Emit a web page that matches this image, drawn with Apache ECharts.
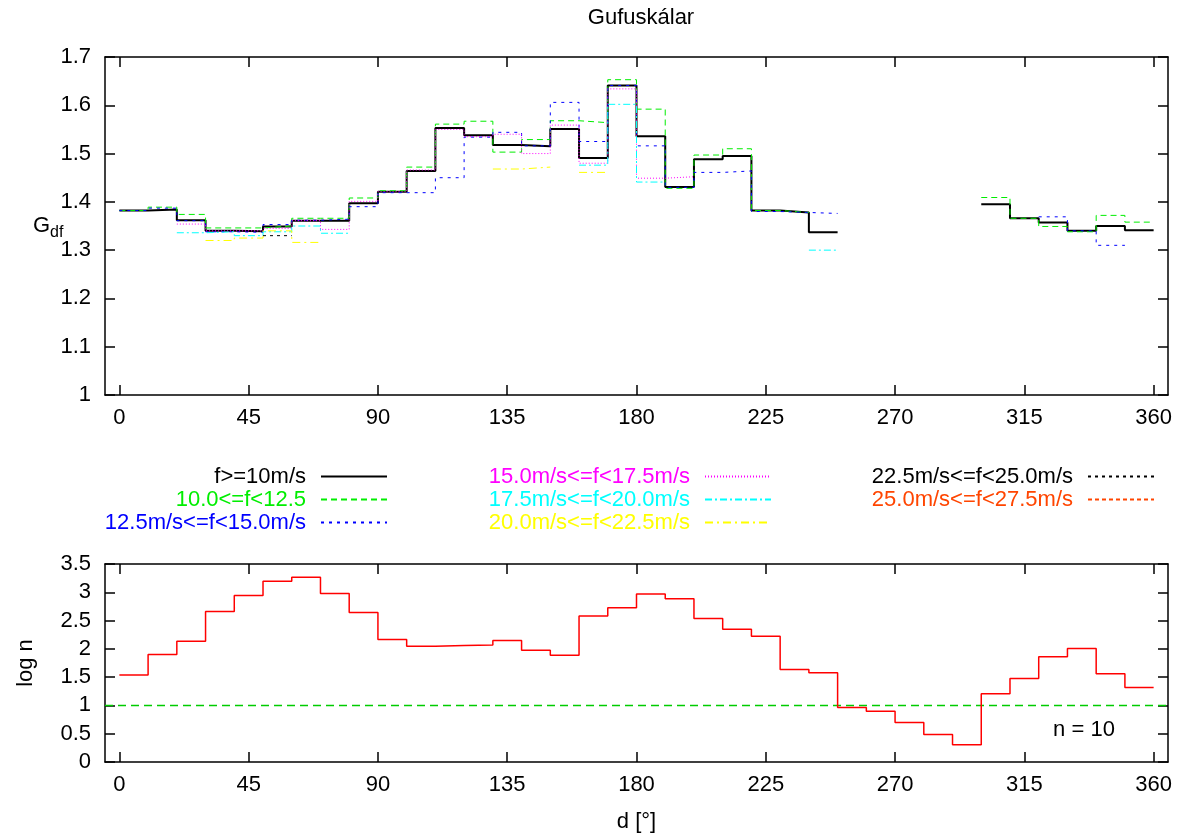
<!DOCTYPE html>
<html>
<head>
<meta charset="utf-8">
<title>Gufuskálar</title>
<script src="https://cdn.jsdelivr.net/npm/echarts@6/dist/echarts.min.js"></script>
<style>
html, body { margin: 0; padding: 0; background: #fff; }
#main { width: 1178px; height: 835px; }
</style>
</head>
<body>
<div id="main"></div>
<script>
// direction bins, lower edge of each 10 degree sector
var binStart = [0,10,20,30,40,50,60,70,80,90,100,110,120,130,140,150,160,170,
	180,190,200,210,220,230,240,250,260,270,280,290,300,310,320,330,340,350];
var binWidth = 10;
var dirTicks = [0,45,90,135,180,225,270,315,360];
var dirMin = -5, dirMax = 365;

// Gdf per wind speed class
var gAll = [1.382,1.384,1.362,1.340,1.339,1.349,1.361,1.361,1.397,1.421,1.464,1.553,1.538,1.518,1.515,1.551,1.491,1.641,
	1.536,1.431,1.488,1.495,1.382,1.378,1.337,null,null,null,null,null,1.395,1.366,1.357,1.340,1.350,1.341];
var g10 = [1.382,1.389,1.374,1.346,1.346,1.350,1.366,1.366,1.408,1.423,1.472,1.561,1.567,1.503,1.529,1.568,1.564,1.653,
	1.592,1.428,1.497,1.510,1.382,1.378,null,null,null,null,null,null,1.409,1.366,1.349,1.338,1.372,1.358];
var g12 = [1.382,1.387,1.361,1.338,1.337,1.353,1.362,1.364,1.390,1.419,1.419,1.450,1.534,1.544,1.516,1.606,1.525,1.641,
	1.516,1.430,1.461,1.464,1.380,1.378,1.376,null,null,null,null,null,null,null,1.369,1.340,1.310,null];
var g15 = [null,null,1.354,1.340,1.340,1.345,1.361,1.343,1.401,1.421,1.466,1.550,1.535,1.540,1.500,1.559,1.480,1.634,
	1.449,1.452,null,null,null,null,null,null,null,null,null,null,null,null,null,null,null,null];
var g17 = [null,null,1.336,1.338,1.330,1.338,1.350,1.335,null,null,null,null,null,null,null,null,1.476,1.602,
	1.441,null,null,null,null,null,1.300,null,null,null,null,null,null,null,null,null,null,null];
var g20 = [null,null,null,1.320,1.325,1.340,1.316,null,null,null,null,null,null,1.468,1.472,null,1.461,null,
	null,null,null,null,null,null,null,null,null,null,null,null,null,null,null,null,null,null];
var g22 = [null,null,null,null,null,1.330,null,null,null,null,null,null,null,null,null,null,null,null,
	null,null,null,null,null,null,null,null,null,null,null,null,null,null,null,null,null,null];
var g25 = [null,null,null,null,null,null,null,null,null,null,null,null,null,null,null,null,null,null,
	null,null,null,null,null,null,null,null,null,null,null,null,null,null,null,null,null,null];

// log10 of number of samples per sector
var logN = [1.54,1.90,2.136,2.66,2.943,3.196,3.267,2.98,2.643,2.166,2.048,2.06,2.07,2.148,1.977,1.889,2.583,2.725,
	2.97,2.884,2.537,2.348,2.224,1.636,1.577,0.964,0.899,0.699,0.488,0.304,1.206,1.477,1.859,2.007,1.558,1.318];
var nLimit = 1;

var font = "'Liberation Sans', Arial, sans-serif";

// histogram steps: each sector is a flat segment, gaps break the line
function steps(vals) {
	var out = [];
	for (var i = 0; i < vals.length; i++) {
		if (vals[i] === null) {
			out.push([binStart[i], '-']);
			continue;
		}
		out.push([binStart[i], vals[i]]);
		out.push([binStart[i] + binWidth, vals[i]]);
	}
	return out;
}

var classes = [
	{name: 'f>=10m/s', vals: gAll, color: '#000000', width: 2, type: 'solid'},
	{name: '10.0<=f<12.5', vals: g10, color: '#00ee00', width: 1, type: [6, 4]},
	{name: '12.5m/s<=f<15.0m/s', vals: g12, color: '#0000ff', width: 1, type: [3, 5]},
	{name: '15.0m/s<=f<17.5m/s', vals: g15, color: '#ff00ff', width: 1, type: [1, 2]},
	{name: '17.5m/s<=f<20.0m/s', vals: g17, color: '#00ffff', width: 1, type: [7, 3, 2, 3]},
	{name: '20.0m/s<=f<22.5m/s', vals: g20, color: '#ffff00', width: 1, type: [8, 4, 2, 4]},
	{name: '22.5m/s<=f<25.0m/s', vals: g22, color: '#000000', width: 1, type: [3, 4]},
	{name: '25.0m/s<=f<27.5m/s', vals: g25, color: '#ff4500', width: 1, type: [4, 3]}
];

var series = [];
for (var c of classes) {
	series.push({
		name: c.name,
		type: 'line',
		xAxisIndex: 0,
		yAxisIndex: 0,
		data: steps(c.vals),
		symbol: 'none',
		connectNulls: false,
		color: c.color,
		lineStyle: {color: c.color, width: c.width, type: c.type},
		animation: false
	});
}

// n = 10 threshold across the whole lower panel
series.push({
	name: 'n = 10',
	type: 'line',
	xAxisIndex: 2,
	yAxisIndex: 2,
	data: [[dirMin, nLimit], [dirMax, nLimit]],
	symbol: 'none',
	silent: true,
	itemStyle: {color: '#00cc00'},
	lineStyle: {color: '#00cc00', width: 1.5, type: [8, 5], opacity: 1},
	animation: false
});
series.push({
	name: 'log n',
	type: 'line',
	xAxisIndex: 2,
	yAxisIndex: 2,
	data: steps(logN),
	symbol: 'none',
	color: '#ff0000',
	lineStyle: {color: '#ff0000', width: 1.5},
	animation: false
});

function legendCol(names, right) {
	return {
		data: names.map(function (n) {
			var c = classes.filter(function (k) { return k.name === n })[0];
			return {name: n, textStyle: {color: c.color}};
		}),
		orient: 'vertical',
		align: 'right',
		right: right,
		top: 465,
		padding: 0,
		itemWidth: 66,
		itemHeight: 14,
		itemGap: 0,
		selectedMode: false,
		itemStyle: {opacity: 0},
		textStyle: {fontSize: 22, fontFamily: font, lineHeight: 23, padding: [0, 10, 0, 0]}
	};
}

function xAx(grid, pos, labels) {
	return {
		type: 'value', gridIndex: grid, position: pos, min: dirMin, max: dirMax,
		axisLine: {show: true, onZero: false, lineStyle: {color: '#000', width: 1.5}},
		axisTick: {show: true, inside: true, length: 10, customValues: dirTicks, lineStyle: {color: '#000', width: 1.5}},
		axisLabel: {show: labels, customValues: dirTicks, fontSize: 22, fontFamily: font, color: '#000', margin: 12},
		splitLine: {show: false}
	};
}

function yAx(grid, pos, min, max, step, labels) {
	return {
		type: 'value', gridIndex: grid, position: pos, min: min, max: max, interval: step,
		axisLine: {show: true, onZero: false, lineStyle: {color: '#000', width: 1.5}},
		axisTick: {show: true, inside: true, length: 10, lineStyle: {color: '#000', width: 1.5}},
		axisLabel: {show: labels, fontSize: 22, fontFamily: font, color: '#000', margin: 14},
		splitLine: {show: false}
	};
}

var xAxes = [xAx(0, 'bottom', true), xAx(0, 'top', false), xAx(1, 'bottom', true), xAx(1, 'top', false)];
xAxes[2].name = 'd [°]';
xAxes[2].nameLocation = 'middle';
xAxes[2].nameGap = 49;
xAxes[2].nameTextStyle = {fontSize: 22, fontFamily: font, color: '#000'};

var yAxes = [yAx(0, 'left', 1, 1.7, 0.1, true), yAx(0, 'right', 1, 1.7, 0.1, false),
	yAx(1, 'left', 0, 3.5, 0.5, true), yAx(1, 'right', 0, 3.5, 0.5, false)];
yAxes[2].name = 'log n';
yAxes[2].nameLocation = 'middle';
yAxes[2].nameRotate = 90;
yAxes[2].nameGap = 68;
yAxes[2].nameTextStyle = {fontSize: 22, fontFamily: font, color: '#000'};

var option = {
	backgroundColor: '#fff',
	animation: false,
	grid: [
		{left: 105, right: 10, top: 57, height: 338},
		{left: 105, right: 10, top: 564, height: 198}
	],
	xAxis: xAxes,
	yAxis: yAxes,
	legend: [
		legendCol(['f>=10m/s', '10.0<=f<12.5', '12.5m/s<=f<15.0m/s'], 790),
		legendCol(['15.0m/s<=f<17.5m/s', '17.5m/s<=f<20.0m/s', '20.0m/s<=f<22.5m/s'], 406),
		legendCol(['22.5m/s<=f<25.0m/s', '25.0m/s<=f<27.5m/s'], 23)
	],
	graphic: [
		{type: 'text', x: 641, y: 18, style: {text: 'Gufuskálar', fontSize: 22, fontFamily: font, fill: '#000', align: 'center', verticalAlign: 'middle'}},
		{type: 'text', x: 33, y: 226, style: {
			text: '{g|G}{s|df}', fill: '#000', verticalAlign: 'middle',
			rich: {
				g: {fontSize: 22, fontFamily: font},
				s: {fontSize: 16, fontFamily: font, padding: [14, 0, 0, 0]}
			}
		}},
		{type: 'text', x: 1084, y: 730, style: {text: 'n = 10', fontSize: 22, fontFamily: font, fill: '#000', align: 'center', verticalAlign: 'middle'}}
	],
	series: series
};

var myChart = echarts.init(document.getElementById('main'));
myChart.setOption(option);
</script>
</body>
</html>
